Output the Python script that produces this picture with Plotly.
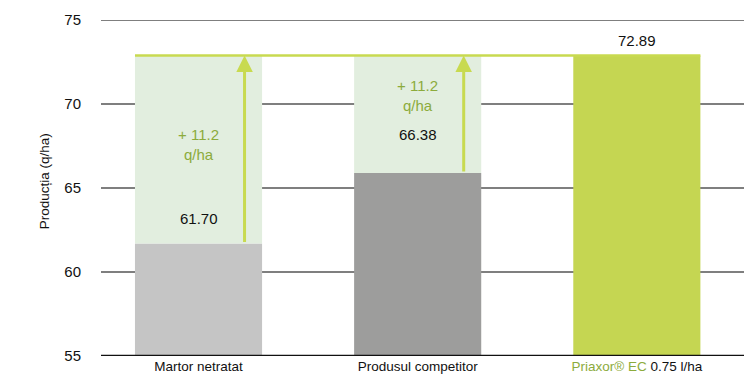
import plotly.graph_objects as go

categories = ["Martor netratat", "Produsul competitor", "Priaxor® EC 0.75 l/ha"]
tick_labels = ["Martor netratat", "Produsul competitor",
               "<span style='color:#8cab3c'>Priaxor® EC</span> 0.75 l/ha"]
bar_heights = [61.70, 65.90, 72.89]
value_labels = ["61.70", "66.38", "72.89"]
gain_labels = ["+ 11.2<br>q/ha", "+ 11.2<br>q/ha"]
target = 72.89
y_ticks = [55, 60, 65, 70, 75]

bar_colors = ["#c5c5c5", "#9d9d9c", "#c5d652"]
shade_color = "#e2eedf"
green = "#c8da50"
green_text = "#8cab3c"
FONT = "Liberation Sans Narrow, Arial Narrow, Liberation Sans, Arial"

x = [0, 1, 2]
fig = go.Figure()
fig.add_trace(go.Bar(x=x, y=[h - 55 for h in bar_heights], base=55, width=0.58,
                     marker=dict(color=bar_colors, line=dict(width=0)),
                     hoverinfo="skip"))
fig.add_trace(go.Bar(x=x[:2], y=[target - h for h in bar_heights[:2]],
                     base=bar_heights[:2], width=0.58,
                     marker=dict(color=shade_color, line=dict(width=0)),
                     hoverinfo="skip"))
fig.add_trace(go.Scatter(x=[-0.29, 2.29], y=[target, target], mode="lines",
                         line=dict(color=green, width=2.5), hoverinfo="skip"))

for i in range(2):
    fig.add_annotation(x=x[i] + 0.21, y=target, ax=x[i] + 0.21, ay=bar_heights[i],
                       xref="x", yref="y", axref="x", ayref="y",
                       showarrow=True, arrowhead=2, arrowsize=1.1, arrowwidth=3,
                       arrowcolor=green, text="", standoff=0, startstandoff=0)

gain_y = [67.6, 70.5]
for i in range(2):
    fig.add_annotation(x=x[i], y=gain_y[i], text=gain_labels[i], showarrow=False,
                       font=dict(family=FONT, size=15, color=green_text),
                       xanchor="center", yanchor="middle")

val_y = [63.2, 68.2, 73.8]
for i in range(3):
    fig.add_annotation(x=x[i], y=val_y[i], text=value_labels[i], showarrow=False,
                       font=dict(family=FONT, size=15, color="#111111"),
                       xanchor="center", yanchor="middle")

fig.add_annotation(xref="paper", yref="paper", x=-(101 - 44) / 643, y=0.52,
                   text="Producția (q/ha)", textangle=-90, showarrow=False,
                   font=dict(family=FONT, size=13.5, color="#111111"),
                   xanchor="center", yanchor="middle")

# page body has an 8px default margin; compensate so the plot lands where it should
fig.update_layout(
    width=746, height=375,
    margin=dict(l=93, r=10, t=12, b=27, autoexpand=False),
    plot_bgcolor="white", paper_bgcolor="white",
    showlegend=False, barmode="overlay",
    font=dict(family=FONT, size=15, color="#111111"),
    xaxis=dict(tickmode="array", tickvals=x, ticktext=tick_labels,
               range=[-0.445, 2.489], showgrid=False, zeroline=False,
               showline=False, ticks="", tickfont=dict(size=13.5),
               automargin=False),
    yaxis=dict(range=[55, 75], tickvals=y_ticks,
               showgrid=True, gridcolor="#7f7f7f", gridwidth=2,
               zeroline=False, showline=False, ticks="",
               ticklabelstandoff=19, tickfont=dict(size=15),
               automargin=False),
)
# top gridline (at the range edge) drawn explicitly
fig.add_shape(type="line", xref="paper", yref="y", x0=0, x1=1, y0=y_ticks[-1], y1=y_ticks[-1],
              line=dict(color="#7f7f7f", width=2), layer="below")
fig.add_shape(type="line", xref="paper", yref="y", x0=0, x1=1, y0=y_ticks[0], y1=y_ticks[0],
              line=dict(color="#111111", width=2.5), layer="above")

fig.write_html("out.html")
